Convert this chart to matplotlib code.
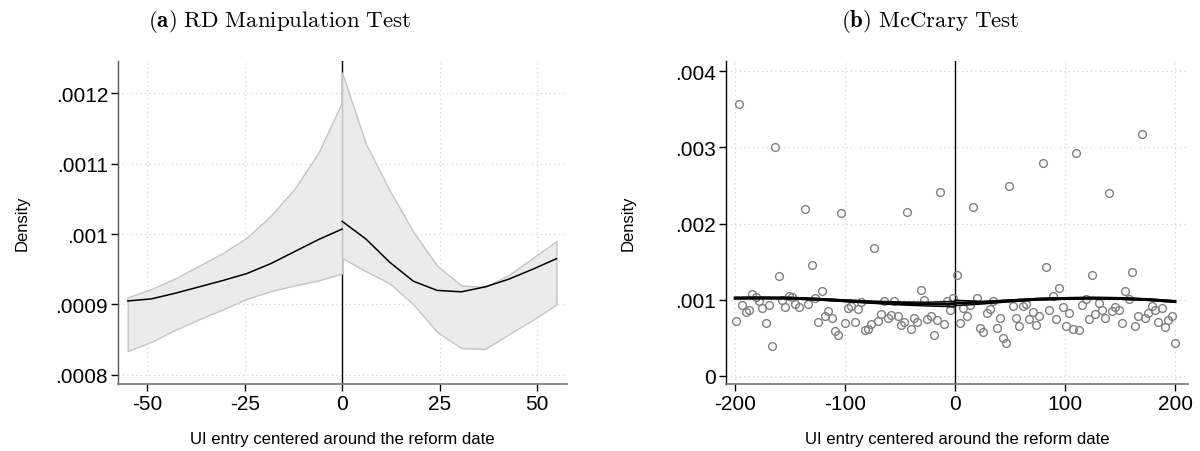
import numpy as np
import matplotlib
matplotlib.use('Agg')
import matplotlib.pyplot as plt

plt.rcParams['font.family'] = ['Liberation Sans', 'DejaVu Sans']
plt.rcParams['mathtext.fontset'] = 'cm'

# (a) RD manipulation test: local polynomial density with CI, each side of the cutoff
rd_x_left = [-55, -48.9, -42.8, -36.7, -30.6, -24.4, -18.3, -12.2, -6.1, 0]
rd_fit_left = [0.000905, 0.000908, 0.000916, 0.000925, 0.000934, 0.000944, 0.000958, 0.000975, 0.000992, 0.001007]
rd_hi_left = [0.000910, 0.000922, 0.000937, 0.000955, 0.000973, 0.000995, 0.001026, 0.001064, 0.001115, 0.001187]
rd_lo_left = [0.000834, 0.000847, 0.000864, 0.000879, 0.000893, 0.000908, 0.000919, 0.000927, 0.000934, 0.000944]

rd_x_right = [0, 6.1, 12.2, 18.3, 24.4, 30.6, 36.7, 42.8, 48.9, 55]
rd_fit_right = [0.001018, 0.000993, 0.000960, 0.000933, 0.000920, 0.000918, 0.000925, 0.000936, 0.000950, 0.000965]
rd_hi_right = [0.001229, 0.001128, 0.001062, 0.001003, 0.000955, 0.000927, 0.000925, 0.000942, 0.000966, 0.000990]
rd_lo_right = [0.000966, 0.000947, 0.000930, 0.000900, 0.000861, 0.000838, 0.000837, 0.000858, 0.000878, 0.000900]

# (b) McCrary test: binned density (x 1e-3) and fitted density with CI
bin_x = [-199.4, -196.4, -193.3, -190.3, -187.3, -184.2, -181.2, -178.2, -175.2, -172.1,
         -169.1, -166.4, -163.3, -160.3, -157.3, -154.2, -151.2, -148.2, -145.2, -142.1,
         -136.4, -133.3, -130.3, -127.3, -124.2, -121.2, -118.2, -115.2, -112.1, -109.1,
         -106.1, -103.3, -100.3, -97.3, -94.2, -91.2, -88.2, -85.2, -82.1, -79.1,
         -76.1, -73.3, -70.3, -67.3, -64.2, -61.2, -58.2, -55.2, -52.1, -49.1,
         -46.1, -43.3, -40.3, -37.3, -34.2, -31.2, -28.2, -25.2, -22.1, -19.1,
         -16.1, -13.3, -10.3, -7.3, -4.5, -1.5, 1.5, 4.5, 7.6, 10.6,
         13.6, 16.7, 19.7, 22.7, 25.8, 28.8, 31.8, 34.8, 37.9, 40.6,
         43.6, 46.7, 49.4, 52.4, 55.5, 58.5, 61.5, 64.5, 67.6, 70.6,
         73.6, 76.7, 79.7, 82.7, 85.8, 88.8, 91.8, 94.8, 97.9, 100.9,
         103.9, 106.9, 109.7, 112.7, 115.8, 118.8, 121.8, 124.5, 127.6, 130.6,
         133.6, 136.7, 139.7, 142.7, 145.8, 148.8, 151.8, 154.8, 157.9, 160.6,
         163.6, 166.7, 169.7, 172.7, 175.8, 178.8, 181.8, 184.8, 187.9, 190.9,
         193.9, 197.0, 200.0]
bin_y = [0.718, 3.570, 0.933, 0.841, 0.867, 1.078, 1.029, 0.986, 0.885, 0.692,
         0.933, 0.385, 3.005, 1.310, 0.994, 0.907, 1.047, 1.029, 0.937, 0.898,
         2.194, 0.937, 1.454, 1.016, 0.701, 1.108, 0.788, 0.845, 0.753, 0.591,
         0.530, 2.138, 0.692, 0.894, 0.911, 0.710, 0.876, 0.964, 0.600, 0.618,
         0.675, 1.682, 0.718, 0.815, 0.986, 0.762, 0.802, 0.977, 0.788, 0.661,
         0.710, 2.155, 0.613, 0.762, 0.701, 1.126, 0.994, 0.740, 0.788, 0.539,
         0.731, 2.418, 0.679, 0.977, 0.867, 1.021, 1.327, 0.692, 0.885, 0.788,
         0.933, 2.212, 1.021, 0.626, 0.574, 0.819, 0.876, 0.986, 0.626, 0.753,
         0.491, 0.425, 2.492, 0.915, 0.762, 0.657, 0.920, 0.937, 0.745, 0.841,
         0.666, 0.788, 2.790, 1.424, 0.863, 1.042, 0.745, 1.152, 0.898, 0.657,
         0.828, 0.618, 2.926, 0.604, 0.924, 1.012, 0.745, 1.318, 0.806, 0.950,
         0.867, 0.753, 2.405, 0.854, 0.907, 0.867, 0.688, 1.108, 1.003, 1.358,
         0.648, 0.780, 3.176, 0.753, 0.823, 0.920, 0.863, 0.710, 0.885, 0.635,
         0.731, 0.780, 0.425]

mc_x_left = [-200, -175, -150, -125, -100, -75, -50, -25, 0]
mc_fit_left = [1.020, 1.022, 1.020, 1.005, 0.985, 0.965, 0.950, 0.942, 0.942]
mc_hi_left = [1.030, 1.031, 1.028, 1.015, 0.996, 0.980, 0.970, 0.966, 0.978]
mc_lo_left = [1.010, 1.012, 1.010, 0.995, 0.974, 0.951, 0.930, 0.916, 0.905]
mc_x_right = [0, 25, 50, 75, 100, 125, 150, 175, 200]
mc_fit_right = [0.955, 0.962, 0.985, 1.005, 1.015, 1.020, 1.015, 1.000, 0.975]
mc_hi_right = [0.992, 0.978, 0.995, 1.015, 1.025, 1.028, 1.025, 1.010, 0.985]
mc_lo_right = [0.920, 0.942, 0.972, 0.995, 1.005, 1.010, 1.005, 0.990, 0.965]

fig = plt.figure(figsize=(12, 4.52), dpi=100)
ax1 = fig.add_axes([0.0983, 0.1482, 0.3742, 0.7146])
ax2 = fig.add_axes([0.6048, 0.1482, 0.3852, 0.7146])

# left panel
ax1.axvline(0, color='black', lw=1.0, zorder=1)
for xs, lo, hi in [(rd_x_left, rd_lo_left, rd_hi_left), (rd_x_right, rd_lo_right, rd_hi_right)]:
    ax1.fill_between(xs, lo, hi, facecolor='#ebebeb', edgecolor='#c4c4c4', lw=1.0, zorder=2)
ax1.plot(rd_x_left, rd_fit_left, color='black', lw=1.1, zorder=3)
ax1.plot(rd_x_right, rd_fit_right, color='black', lw=1.1, zorder=3)
ax1.set_xlim(-57.5, 57.7)
ax1.set_ylim(0.0007872, 0.0012454)
ax1.set_xticks([-50, -25, 0, 25, 50])
ax1.set_xticklabels(['-50', '-25', '0', '25', '50'])
ax1.set_yticks([0.0008, 0.0009, 0.001, 0.0011, 0.0012])
ax1.set_yticklabels(['.0008', '.0009', '.001', '.0011', '.0012'])

# right panel
ax2.axvline(0, color='black', lw=1.0, zorder=1)
ax2.plot(bin_x, np.array(bin_y) / 1000, 'o', mfc='none', mec='#808080', mew=1.0, ms=5.6, zorder=2)
for xs, fit, lo, hi in [(mc_x_left, mc_fit_left, mc_lo_left, mc_hi_left),
                        (mc_x_right, mc_fit_right, mc_lo_right, mc_hi_right)]:
    ax2.plot(xs, np.array(fit) / 1000, color='black', lw=2.2, zorder=3)
    ax2.plot(xs, np.array(lo) / 1000, color='black', lw=1.0, zorder=3)
    ax2.plot(xs, np.array(hi) / 1000, color='black', lw=1.0, zorder=3)
ax2.set_xlim(-208.5, 211.8)
ax2.set_ylim(-0.000109, 0.004135)
ax2.set_xticks([-200, -100, 0, 100, 200])
ax2.set_xticklabels(['-200', '-100', '0', '100', '200'])
ax2.set_yticks([0, 0.001, 0.002, 0.003, 0.004])
ax2.set_yticklabels(['0', '.001', '.002', '.003', '.004'])

for ax, spc, ylp in [(ax1, '#555555', 19), (ax2, 'black', 28.5)]:
    ax.spines['top'].set_visible(False)
    ax.spines['right'].set_visible(False)
    ax.spines['left'].set_color(spc)
    ax.spines['bottom'].set_color('#777777')
    ax.spines['left'].set_linewidth(1.0)
    ax.spines['bottom'].set_linewidth(1.2)
    ax.grid(True, color='#d0d0d0', linestyle=(0, (1, 3)), lw=0.8, zorder=0)
    ax.set_axisbelow(True)
    ax.tick_params(direction='out', length=5, width=1, pad=2, labelsize=15, colors='black')
    ax.set_ylabel('Density', fontsize=12, labelpad=ylp)
    ax.set_xlabel('UI entry centered around the reform date', fontsize=12.1, labelpad=13)

fig.text(0.2333, 0.9535, r'$\mathbf{(a)}\ \mathrm{RD\ Manipulation\ Test}$', ha='center', va='center', fontsize=16.5)
fig.text(0.775, 0.9535, r'$\mathbf{(b)}\ \mathrm{McCrary\ Test}$', ha='center', va='center', fontsize=16.5)

fig.savefig('out.png', dpi=100)
